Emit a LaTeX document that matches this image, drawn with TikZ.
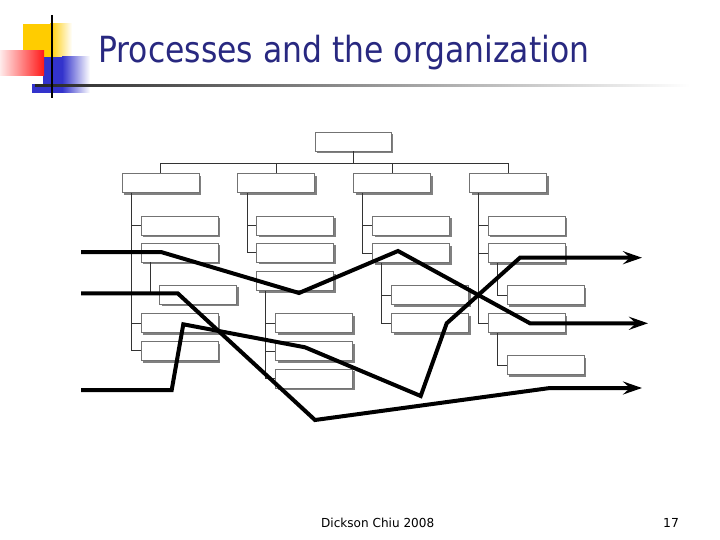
\documentclass[tikz,border=0pt]{standalone}
\usepackage{fontspec}
\setmainfont{DejaVu Sans}
\usetikzlibrary{arrows.meta,shadows}
\definecolor{navy}{RGB}{40,40,128}
\definecolor{decoyel}{RGB}{255,204,0}
\definecolor{decoblue}{RGB}{51,51,204}
\begin{document}
\begin{tikzpicture}[x=1pt,y=-1pt,
 orgbox/.style={draw=black!55, fill=white, line width=0.8pt, minimum width=77pt, minimum height=19pt, inner sep=0pt,
   drop shadow={shadow xshift=2.2pt, shadow yshift=-2.2pt, fill=black!50, opacity=1}},
 conn/.style={draw=black!80, line width=0.8pt},
 proc/.style={line width=4pt, draw=black, line join=miter},
 arr/.style={-{Stealth[length=19pt,width=13pt,inset=7pt]}}
]
\useasboundingbox (0,0) rectangle (720,540);
% decoration
\fill[decoyel] (23,24) rectangle (50,57);
\shade[left color=decoyel, right color=white] (50,24) rectangle (72,57);
\fill[decoblue] (43,57) rectangle (62,93);
\shade[left color=decoblue, right color=white] (62,57) rectangle (90,93);
\fill[decoblue] (32,84) rectangle (43,93);
\shade[left color=red!8, right color=red!90] (0,51) rectangle (44,76);
\shade[left color=black!85, middle color=black!25, right color=white] (35,84.3) rectangle (690,86.7);
\draw[line width=1.6pt] (51.7,15) -- (51.7,98);
% title
\node[anchor=base west, inner sep=0pt, text=navy] (title) at (98,62.7)
  {\resizebox{491pt}{\height}{\fontsize{36}{40}\selectfont Processes and the organization}};
% boxes
\node[orgbox, minimum width=76pt] (T) at (353,141.5) {};
\node[orgbox] (A) at (160.7,183) {};
\node[orgbox] (B) at (276.3,183) {};
\node[orgbox] (C) at (392,183) {};
\node[orgbox] (D) at (508,183) {};
\node[orgbox] (A1) at (179.5,225.5) {};
\node[orgbox] (A2) at (179.5,252.5) {};
\node[orgbox] (A2a) at (198.3,294.5) {};
\node[orgbox] (A3) at (179.5,323) {};
\node[orgbox] (A4) at (179.5,350.8) {};
\node[orgbox] (B1) at (295,225.5) {};
\node[orgbox] (B2) at (295,252.5) {};
\node[orgbox] (B3) at (295,281) {};
\node[orgbox] (B3a) at (314.2,323) {};
\node[orgbox] (B3b) at (314.2,351) {};
\node[orgbox] (B3c) at (314.2,378.7) {};
\node[orgbox] (C1) at (410.8,225.5) {};
\node[orgbox] (C2) at (410.8,253) {};
\node[orgbox] (C2a) at (430,295) {};
\node[orgbox] (C2b) at (430,323) {};
\node[orgbox] (D1) at (526.7,225.5) {};
\node[orgbox] (D2) at (526.7,253) {};
\node[orgbox] (D2a) at (545.7,295) {};
\node[orgbox] (D3) at (526.7,323) {};
\node[orgbox] (D3a) at (545.7,365.3) {};
% tree connectors
\coordinate (bus) at (353,163);
\draw[conn] (T.south) -- (bus);
\draw[conn] (A.north) |- (D.north |- bus);
\draw[conn] (B.north) -- (B.north |- bus);
\draw[conn] (C.north) -- (C.north |- bus);
\draw[conn] (D.north) -- (D.north |- bus);
\foreach \p/\c in {A/A1,A/A2,A/A3,A/A4,A2/A2a,B/B1,B/B2,B3/B3a,B3/B3b,B3/B3c,C/C1,C/C2,C2/C2a,C2/C2b,D/D1,D/D2,D/D3,D2/D2a,D3/D3a}
  \draw[conn] ([xshift=9.5pt]\p.south west) |- (\c.west);
% process lines
\coordinate (p1s) at (81,252);
\coordinate (p1a) at (161,252);
\coordinate (p1b) at (299,293);
\coordinate (p1c) at (398,251);
\coordinate (p1d) at (530,323.3);
\coordinate (p1e) at (648,323.3);
\coordinate (p2s) at (81,293.3);
\coordinate (p2a) at (177.7,293.3);
\coordinate (p2b) at (315,420);
\coordinate (p2c) at (550,388);
\coordinate (p2e) at (642,388);
\coordinate (p3s) at (81,390);
\coordinate (p3a) at (171.7,390);
\coordinate (p3b) at (183.3,324.3);
\coordinate (p3c) at (305,347.3);
\coordinate (p3d) at (420.7,396);
\coordinate (p3e) at (446.7,323.3);
\coordinate (p3f) at (520,257.7);
\coordinate (p3g) at (642,257.7);
\draw[proc,arr] (p1s) -- (p1a) -- (p1b) -- (p1c) -- (p1d) -- (p1e);
\draw[proc,arr] (p2s) -- (p2a) -- (p2b) -- (p2c) -- (p2e);
\draw[proc,arr] (p3s) -- (p3a) -- (p3b) -- (p3c) -- (p3d) -- (p3e) -- (p3f) -- (p3g);
% footer
\node[anchor=base west, inner sep=0pt] (author) at (321,527.3)
  {\resizebox{113pt}{\height}{\fontsize{12.4}{14}\selectfont Dickson Chiu 2008}};
\node[anchor=base west, inner sep=0pt] (page) at (663,527.3)
  {\fontsize{12.4}{14}\selectfont 17};
\end{tikzpicture}
\end{document}
